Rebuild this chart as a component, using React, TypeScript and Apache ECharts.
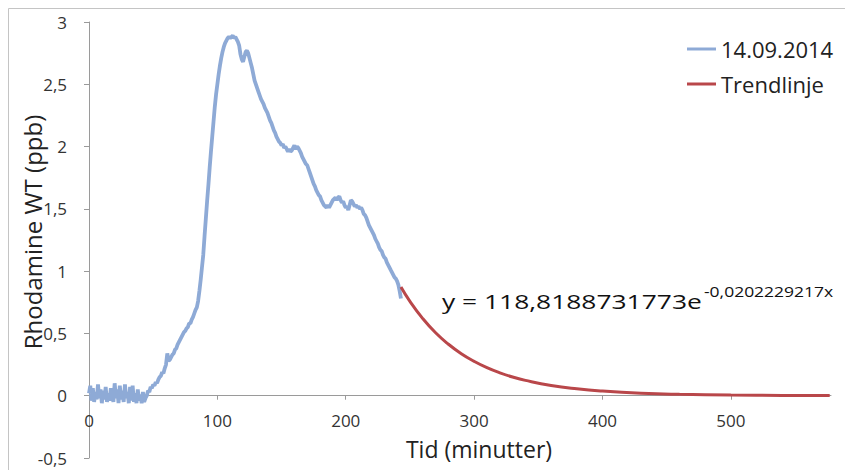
import React, { useEffect, useRef } from "react";
import * as echarts from "echarts";

// Measured series: Rhodamine WT (ppb), one reading per minute starting at 0 min
const sampleStartMin = 0;
const sampleStepMin = 1;
const rhodamine = [
  0.02, 0.08, -0.04, 0.06, -0.05, 0.03, -0.03, 0.09, -0.02, 0.05,
  -0.06, 0.04, -0.03, 0.07, -0.05, 0.02, -0.04, 0.06, 0.01, -0.05,
  0.10, -0.02, 0.05, -0.06, 0.08, -0.03, 0.04, -0.05, 0.09, -0.02,
  0.03, -0.06, 0.07, -0.04, 0.08, -0.05, 0.02, -0.06, 0.05, -0.04,
  0.01, -0.06, 0.03, -0.05, -0.02, 0.0, 0.04, 0.03, 0.07, 0.06,
  0.09, 0.08, 0.11, 0.10, 0.13, 0.15, 0.16, 0.19, 0.18, 0.22,
  0.25, 0.34, 0.28, 0.29, 0.31, 0.33, 0.34, 0.37, 0.38, 0.41,
  0.43, 0.45, 0.47, 0.49, 0.51, 0.52, 0.54, 0.55, 0.58, 0.58,
  0.61, 0.63, 0.66, 0.69, 0.71, 0.76, 0.84, 0.93, 1.03, 1.13,
  1.28, 1.42, 1.56, 1.69, 1.83, 1.96, 2.08, 2.2, 2.32, 2.42,
  2.5, 2.58, 2.65, 2.71, 2.76, 2.8, 2.83, 2.85, 2.87, 2.88,
  2.87, 2.88, 2.89, 2.87, 2.88, 2.86, 2.84, 2.81, 2.74, 2.7,
  2.68, 2.72, 2.76, 2.77, 2.75, 2.71, 2.67, 2.63, 2.58, 2.53,
  2.5, 2.47, 2.44, 2.41, 2.38, 2.36, 2.34, 2.31, 2.29, 2.27,
  2.24, 2.21, 2.19, 2.16, 2.13, 2.11, 2.08, 2.06, 2.04, 2.03,
  2.01, 2.02, 1.99, 2.0, 1.98, 1.96, 1.98, 1.96, 1.97, 1.99,
  2.01, 1.98, 2.0, 1.99, 1.97, 1.95, 1.92, 1.9, 1.88, 1.86,
  1.85, 1.82, 1.79, 1.76, 1.73, 1.7, 1.68, 1.65, 1.63, 1.61,
  1.6, 1.57, 1.55, 1.53, 1.52, 1.51, 1.53, 1.51, 1.53, 1.55,
  1.57, 1.58, 1.59, 1.57, 1.59, 1.6, 1.57, 1.55, 1.56, 1.53,
  1.51, 1.52, 1.49, 1.53, 1.57, 1.56, 1.54, 1.52, 1.53, 1.51,
  1.52, 1.5, 1.51, 1.49, 1.46, 1.45, 1.43, 1.4, 1.37, 1.35,
  1.33, 1.31, 1.29, 1.26, 1.24, 1.22, 1.19, 1.17, 1.16, 1.13,
  1.11, 1.1, 1.07, 1.05, 1.03, 1.01, 0.99, 0.97, 0.95, 0.94,
  0.92, 0.89, 0.84, 0.78,
];

// Trendline
const trendX = [243, 250, 260, 270, 280, 290, 300, 310, 320, 330, 340, 360, 380, 400, 430, 460, 500, 540, 577];
const trendY = [0.872, 0.757, 0.619, 0.505, 0.413, 0.337, 0.276, 0.225, 0.184, 0.15, 0.123, 0.082, 0.055, 0.037, 0.02, 0.011, 0.005, 0.002, 0.001];

const xTicks = [0, 100, 200, 300, 400, 500];
const seriesNames = ["14.09.2014", "Trendlinje"];
const equationMain = "y = 118,8188731773e";
const equationExp = "-0,0202229217x";
const xTitle = "Tid (minutter)";
const yTitle = "Rhodamine WT (ppb)";

const FONT = "'Open Sans', 'Noto Sans', sans-serif";

const Y_MIN = -0.5;
const Y_MAX = 3;
const GRID_TOP = 22;
const GRID_BOTTOM = 12;
const HEIGHT = 470;

export default function App() {
  const ref = useRef<HTMLDivElement>(null);
  useEffect(() => {
    if (!ref.current) return;
    const chart = echarts.init(ref.current, undefined, { renderer: "svg" });
    const measured = rhodamine.map((v, i) => [sampleStartMin + i * sampleStepMin, v]);
    const trend = trendX.map((x, i) => [x, trendY[i]]);
    // the x axis crosses at y = 0: shift it up from the grid bottom by the scale's distance to 0
    const plotH = HEIGHT - GRID_TOP - GRID_BOTTOM;
    const zeroOffset = -((0 - Y_MIN) / (Y_MAX - Y_MIN)) * plotH;
    chart.setOption({
      animation: false,
      backgroundColor: "#ffffff",
      grid: { left: 89, right: 14, top: GRID_TOP, bottom: GRID_BOTTOM, containLabel: false, outerBoundsMode: "none" },
      legend: {
        orient: "vertical",
        left: 682,
        top: 33,
        icon: "rect",
        itemWidth: 29,
        itemHeight: 3,
        itemGap: 13,
        textStyle: { fontFamily: FONT, fontSize: 22, color: "#222" },
        data: seriesNames,
      },
      xAxis: {
        type: "value",
        min: 0,
        max: 578,
        interval: 100,
        offset: zeroOffset,
        name: xTitle,
        nameLocation: "middle",
        nameGap: 42,
        nameMoveOverlap: false,
        nameTextStyle: { fontFamily: FONT, fontSize: 23, lineHeight: 23, color: "#222", padding: [0, 0, 0, 38] },
        axisLine: { onZero: false, lineStyle: { color: "#9a9a9a", width: 1 } },
        axisTick: { show: true, inside: false, length: 4, lineStyle: { color: "#9a9a9a" }, customValues: xTicks },
        axisLabel: { fontFamily: FONT, fontSize: 17, lineHeight: 17, color: "#333", margin: 16, customValues: xTicks },
        splitLine: { show: false },
      },
      yAxis: {
        type: "value",
        min: Y_MIN,
        max: Y_MAX,
        interval: 0.5,
        name: yTitle,
        nameLocation: "middle",
        nameGap: 43,
        nameMoveOverlap: false,
        nameTextStyle: { fontFamily: FONT, fontSize: 24, lineHeight: 28, color: "#222", padding: [0, 0, 0, 16] },
        axisLine: { show: true, onZero: false, lineStyle: { color: "#9a9a9a", width: 1 } },
        axisTick: { show: true, length: 5, lineStyle: { color: "#9a9a9a" } },
        axisLabel: {
          fontFamily: FONT,
          fontSize: 17,
          color: "#333",
          margin: 22,
          formatter: (v: number) => String(v).replace(".", ","),
        },
        splitLine: { show: false },
      },
      graphic: [
        {
          type: "rect",
          shape: { x: 8.5, y: 8.5, width: 1000, height: 1000 },
          style: { fill: "none", stroke: "#c4c4c4", lineWidth: 1 },
          silent: true,
        },
        {
          type: "text",
          x: 442,
          y: 301,
          scaleX: 1.32,
          style: { text: equationMain, fontFamily: FONT, fontSize: 20, fill: "#111", verticalAlign: "middle" },
          silent: true,
        },
        {
          type: "text",
          x: 704,
          y: 292,
          scaleX: 1.25,
          style: { text: equationExp, fontFamily: FONT, fontSize: 14, fill: "#111", verticalAlign: "middle" },
          silent: true,
        },
      ],
      series: [
        {
          name: seriesNames[0],
          type: "line",
          data: measured,
          showSymbol: false,
          symbol: "none",
          lineStyle: { color: "#8EAAD6", width: 3.8 },
          itemStyle: { color: "#8EAAD6" },
          z: 2,
        },
        {
          name: seriesNames[1],
          type: "line",
          data: trend,
          smooth: true,
          showSymbol: false,
          symbol: "none",
          lineStyle: { color: "#B9474A", width: 3 },
          itemStyle: { color: "#B9474A" },
          z: 3,
        },
      ],
    });
    return () => chart.dispose();
  }, []);
  return <div ref={ref} style={{ position: "fixed", left: 0, top: 0, width: 845, height: 470 }} />;
}
